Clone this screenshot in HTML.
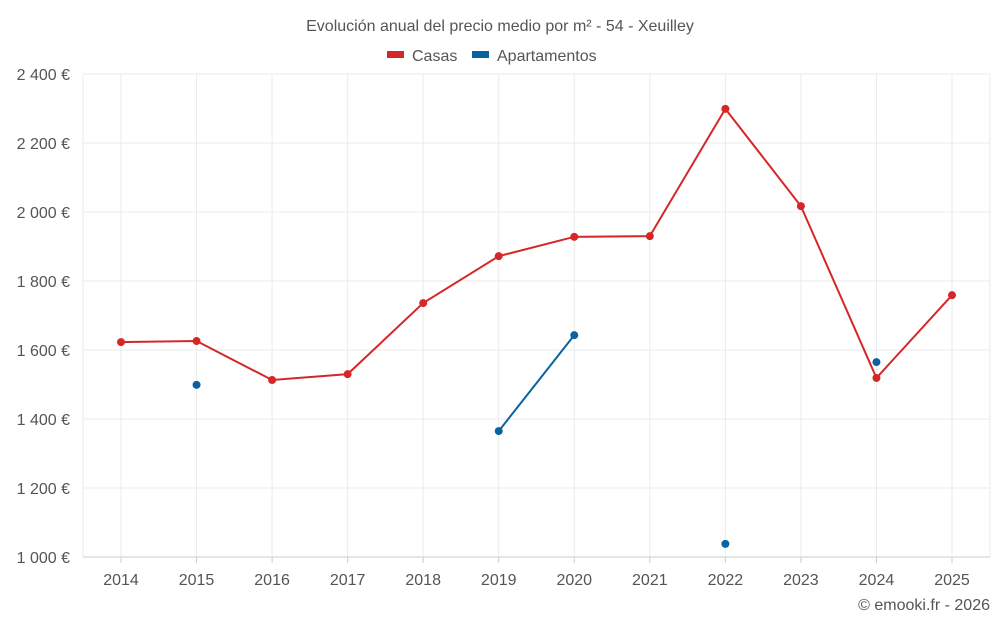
<!DOCTYPE html>
<html><head><meta charset="utf-8"><style>
html,body{margin:0;padding:0;background:#fff;}
svg{display:block;font-family:"Liberation Sans",sans-serif;}
</style></head><body>
<svg id="chart" width="1000" height="625">
<text x="500" y="31" text-anchor="middle" font-size="16" fill="#555">Evolución anual del precio medio por m² - 54 - Xeuilley</text>
<g>
<g><rect x="387" y="51" width="17" height="7" fill="#d62728"/><text x="412" y="61" font-size="16" fill="#555">Casas</text></g>
<g><rect x="472" y="51" width="17" height="7" fill="#0a62a0"/><text x="497" y="61" font-size="16" fill="#555">Apartamentos</text></g>
</g>
<g id="grid"></g><g id="axes"></g><g id="series"></g>
<text x="990" y="610" text-anchor="end" font-size="16" fill="#555">© emooki.fr - 2026</text>
</svg>
<script>
const years = [2014,2015,2016,2017,2018,2019,2020,2021,2022,2023,2024,2025];
const casas = [1623,1626,1513,1530,1736,1872,1928,1930,2299,2017,1519,1759];
const apartamentos = [null,1499,null,null,null,1365,1643,null,1038,null,1565,null];
const yTicks = [1000,1200,1400,1600,1800,2000,2200,2400];
const yTickLabels = ["1 000 €","1 200 €","1 400 €","1 600 €","1 800 €","2 000 €","2 200 €","2 400 €"];

const NS="http://www.w3.org/2000/svg";
const L=83,R=990,T=74,B=557;
const xS=i=>121+i*(952-121)/(years.length-1);
const yS=v=>B-(v-1000)/(2400-1000)*(B-T);
function mk(tag,attrs,parent){const e=document.createElementNS(NS,tag);for(const k in attrs)e.setAttribute(k,attrs[k]);parent.appendChild(e);return e;}
const grid=document.getElementById('grid'),axes=document.getElementById('axes'),series=document.getElementById('series');
yTicks.forEach((v,i)=>{
  const g=mk('line',{x1:L,x2:R,y1:yS(v),y2:yS(v),stroke:i==0?'#ccc':'#ebebeb','stroke-width':1},grid);
  
  
  const t=mk('text',{x:70,y:yS(v)+6,'text-anchor':'end','font-size':16,fill:'#555'},axes);
  t.textContent=yTickLabels[i];
  
  
});
[L,R].forEach(x=>{const g=mk('line',{x1:x,x2:x,y1:T,y2:B,stroke:'#ebebeb'},grid);
  
  });
years.forEach((y,i)=>{
  const g=mk('line',{x1:xS(i),x2:xS(i),y1:T,y2:B,stroke:'#ebebeb'},grid);
  
  
  const tk=mk('line',{x1:xS(i),x2:xS(i),y1:B,y2:B+6,stroke:'#ccc'},axes);
  
  
  const t=mk('text',{x:xS(i),y:585,'text-anchor':'middle','font-size':16,fill:'#555'},axes);
  t.textContent=y;
  
  
});
function draw(data,color,name){
  let segs=[],cur=[];
  data.forEach((v,i)=>{if(v==null){if(cur.length)segs.push(cur);cur=[];}else cur.push([xS(i),yS(v)]);});
  if(cur.length)segs.push(cur);
  segs.forEach(s=>{if(s.length>1){const p=mk('polyline',{points:s.map(q=>q.join(',')).join(' '),fill:'none',stroke:color,'stroke-width':2},series);
    
    }});
  data.forEach((v,i)=>{if(v==null)return;const c=mk('circle',{cx:xS(i),cy:yS(v),r:4,fill:color},series);
    
    });
}
draw(casas,'#d62728','casas');
draw(apartamentos,'#0a62a0','apartamentos');
</script>
</body></html>
